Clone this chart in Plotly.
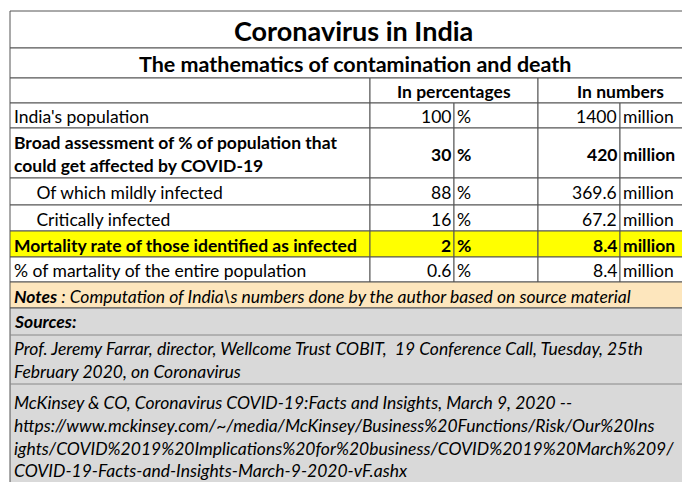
import plotly.graph_objects as go

title = "Coronavirus in India"
subtitle = "The mathematics of contamination and death"
headers = ["In percentages", "In numbers"]
labels = ["India's population",
          "Broad assessment of % of population that<br>could get affected by COVID-19",
          "   Of which mildly infected", "   Critically infected",
          "Mortality rate of those identified as infected",
          "% of martality of the entire population"]
pct = ["100", "30", "88", "16", "2", "0.6"]
nums = ["1400", "420", "369.6", "67.2", "8.4", "8.4"]
bold = [False, True, False, False, True, False]
notes_b = "Notes"
notes = " : Computation of India\\s numbers done by the author based on source material"
sources = ["Prof. Jeremy Farrar, director, Wellcome Trust COBIT,  19 Conference Call, Tuesday, 25th<br>February 2020, on Coronavirus",
           "McKinsey & CO, Coronavirus COVID-19:Facts and Insights, March 9, 2020 --<br>https://www.mckinsey.com/~/media/McKinsey/Business%20Functions/Risk/Our%20Ins<br>ights/COVID%2019%20Implications%20for%20business/COVID%2019%20March%209/<br>COVID-19-Facts-and-Insights-March-9-2020-vF.ashx"]

FONT = "Lato"
FS = 17.5
rows_y = [95, 120, 170, 197, 223, 249, 274]
L, R = 2, 688
cols = [362, 446, 530, 612]
fig = go.Figure()
shapes, ann = [], []
def rect(x0, y0, x1, y1, fill="white", line=True):
    shapes.append(dict(type="rect", x0=x0, y0=y0, x1=x1, y1=y1, fillcolor=fill,
                       line=dict(color="#555", width=1) if line else dict(width=0), layer="below"))
def text(x, y, t, size=FS, anchor="left", b=False, i=False, color="black"):
    if b: t = "<b>" + t + "</b>"
    if i: t = "<i>" + t + "</i>"
    ann.append(dict(x=x, y=y, text=t, showarrow=False, xanchor=anchor, yanchor="middle",
                    align="left", font=dict(family=FONT, size=size, color=color)))

rect(L, 3, R, 40); text(345, 22, title, 27, "center", b=True)
rect(L, 40, R, 70); text(347, 56, subtitle, 21.5, "center", b=True)
rect(L, 70, cols[0], 95); rect(cols[0], 70, cols[2], 95); rect(cols[2], 70, R, 95)
text(446, 83, headers[0], FS, "center", b=True); text(612, 83, headers[1], FS, "center", b=True)
for k in range(6):
    y0, y1 = rows_y[k], rows_y[k+1]
    fill = "#ffff00" if k == 4 else "white"
    xs = [L] + cols + [R]
    for a, bnd in zip(xs[:-1], xs[1:]):
        rect(a, y0, bnd, y1, fill)
    ym = (y0 + y1) / 2 + 1
    text(4, ym, labels[k].replace("   ", "&nbsp;&nbsp;&nbsp;&nbsp;&nbsp;"), FS, b=bold[k])
    text(cols[1] - 1, ym, pct[k], FS, "right", b=bold[k])
    text(cols[1] + 1, ym, "%", FS, b=bold[k])
    text(cols[3] - 1, ym, nums[k], FS, "right", b=bold[k])
    text(cols[3] + 1, ym, "million", FS, b=bold[k])
rect(L, 274, R, 300, "#fde6bd")
text(4, 288, "<b>" + notes_b + "</b>" + notes, FS, i=True)
rect(L, 300, R, 480, "#d9d9d9")
shapes.append(dict(type="line", x0=L, x1=R, y0=327, y1=327, line=dict(color="#888", width=1)))
shapes.append(dict(type="line", x0=L, x1=R, y0=376, y1=376, line=dict(color="#888", width=1)))
text(4, 313, "Sources:", FS, b=True, i=True)
text(4, 352, sources[0], FS, i=True)
text(4, 428, sources[1], FS, i=True)

fig.update_layout(width=690, height=482, margin=dict(l=0, r=0, t=0, b=0),
                  paper_bgcolor="white", plot_bgcolor="white",
                  xaxis=dict(range=[0, 690], visible=False, fixedrange=True),
                  yaxis=dict(range=[482, 0], visible=False, fixedrange=True),
                  shapes=shapes, annotations=ann, showlegend=False)
fig.write_html("out.html", config={"displayModeBar": False})
